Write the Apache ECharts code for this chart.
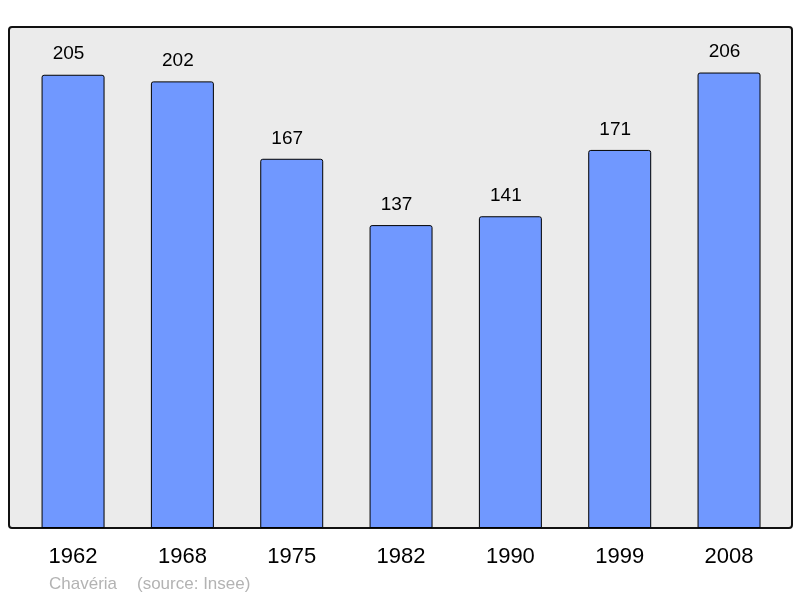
<!DOCTYPE html>
<html>
<head>
<meta charset="utf-8">
<script src="https://cdn.jsdelivr.net/npm/echarts@6/dist/echarts.min.js"></script>
<style>html,body{margin:0;padding:0;background:#fff}#c{width:800px;height:598px}</style>
</head>
<body>
<div id="c"></div>
<script>
var categories = ['1962', '1968', '1975', '1982', '1990', '1999', '2008'];
var population = [205, 202, 167, 137, 141, 171, 206];
var footerName = 'Chavéria';
var footerSource = '(source: Insee)';

var chart = echarts.init(document.getElementById('c'), null, {renderer: 'canvas'});
var yMax = Math.max.apply(null, population) * 1.1;
var ff = '"Liberation Sans", Arial, sans-serif';
chart.setOption({
  animation: false,
  backgroundColor: '#ffffff',
  graphic: [
    {type: 'rect', z: -10, shape: {x: 9, y: 27, width: 783, height: 501, r: 3},
     style: {fill: '#ebebeb', stroke: '#111', lineWidth: 2}},
    {type: 'text', x: 49, y: 584,
     style: {text: footerName, fill: '#b3b3b3', font: '17px ' + ff, textVerticalAlign: 'middle'}},
    {type: 'text', x: 137, y: 584,
     style: {text: footerSource, fill: '#b3b3b3', font: '17px ' + ff, textVerticalAlign: 'middle'}}
  ],
  grid: {left: 18.4, top: 27, width: 765.3, height: 501, containLabel: false},
  xAxis: {
    type: 'category', data: categories,
    axisLine: {show: false}, axisTick: {show: false},
    axisLabel: {color: '#000', fontSize: 22, margin: 18, fontFamily: ff}
  },
  yAxis: {
    type: 'value', min: 0, max: yMax,
    show: false, splitLine: {show: false}
  },
  series: [{
    type: 'bar', data: population, barWidth: '57.6%',
    itemStyle: {color: '#7098ff', borderColor: '#000', borderWidth: 1, borderRadius: [2, 2, 0, 0]},
    label: {show: true, position: 'top', distance: 11, offset: [-4.5, 0], color: '#000', fontSize: 19,
            fontFamily: ff}
  }]
});
</script>
</body>
</html>
